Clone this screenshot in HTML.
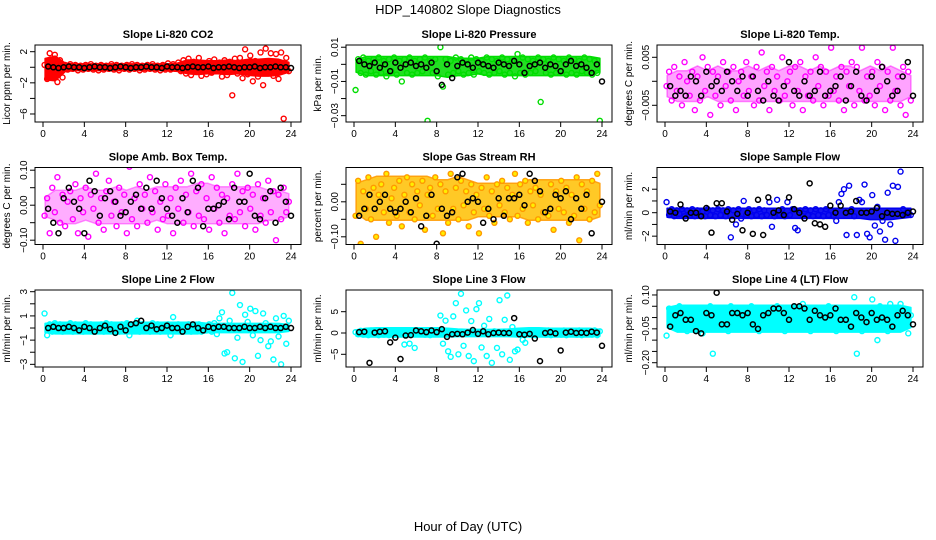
<!DOCTYPE html>
<html><head><meta charset="utf-8"><style>
body{margin:0;background:#fff}
svg{display:block;font-family:"Liberation Sans",sans-serif}
</style></head><body>
<svg id="chart" width="936" height="540" viewBox="0 0 936 540">
<text x="468" y="14" text-anchor="middle" font-size="13">HDP_140802  Slope Diagnostics</text>
<text x="468" y="531" text-anchor="middle" font-size="13">Hour of Day (UTC)</text>
</svg>
<script>
const xTicks = [0,4,8,12,16,20,24];
const bandHours = [0,1,2,3,4,5,6,7,8,9,10,11,12,13,14,15,16,17,18,19,20,21,22,23,24];
const titles = ["Slope Li-820 CO2","Slope Li-820 Pressure","Slope Li-820 Temp.","Slope Amb. Box Temp.","Slope Gas Stream RH","Slope Sample Flow","Slope Line 2 Flow","Slope Line 3 Flow","Slope Line 4 (LT) Flow"];
const yTitles = ["Licor ppm per min.","kPa per min.","degrees C per min.","degrees C per min.","percent per min.","ml/min per min.","ml/min per min.","ml/min per min.","ml/min per min."];
const yLims = [[-7.03,2.86],[-0.0337,0.0113],[-0.00848,0.00756],[-0.1123,0.1077],[-0.122,0.098],[-2.71,3.85],[-3.22,3.14],[-7.98,10.09],[-0.219,0.122]];
const yTickVals = [[2,0,-2,-4,-6],[0.01,0,-0.01,-0.02,-0.03],[0.005,0,-0.005],[0.1,0.05,0,-0.05,-0.1],[0.05,0,-0.05,-0.1],[3,2,1,0,-1,-2],[3,2,1,0,-1,-2,-3],[5,0,-5],[0.1,0.05,0,-0.05,-0.1,-0.15,-0.2]];
const yTickLabels = [["2","","−2","","−6"],["0.01","","−0.01","","−0.03"],["0.005","","−0.005"],["0.10","","0.00","","−0.10"],["","0.00","","−0.10"],["","2","","0","","−2"],["3","","1","","−1","","−3"],["5","0","−5"],["0.10","","","−0.05","","","−0.20"]];
const colColors = ["#ff0000","#00dd00","#ff00ff","#ff00ff","#ff9900","#0000ee","#00ffff","#00ffff","#00ffff"];
const bandColors = ["#ff0000","#22e022","#ff33ff","#ff33ff","#ffc000","#1515ee","#00ffff","#00ffff","#00ffff"];

/* dense-band envelopes per hour (low, high) */
const co2Lo = [-1.5,-1.6,-0.4,-0.3,-0.3,-0.3,-0.3,-0.3,-0.3,-0.3,-0.3,-0.3,-0.3,-0.4,-0.7,-0.8,-0.7,-0.7,-0.8,-0.7,-0.9,-1.0,-1.0,-0.9,-0.5];
const co2Hi = [1.0,1.3,0.4,0.3,0.3,0.3,0.3,0.3,0.3,0.3,0.3,0.3,0.3,0.4,0.8,0.8,0.7,0.7,0.8,0.7,0.9,0.9,1.0,0.9,0.5];
const presLo = [-0.004,-0.006,-0.006,-0.006,-0.006,-0.006,-0.006,-0.006,-0.006,-0.007,-0.006,-0.006,-0.005,-0.006,-0.006,-0.006,-0.006,-0.006,-0.006,-0.006,-0.006,-0.006,-0.006,-0.006,-0.004];
const presHi = [0.002,0.004,0.004,0.004,0.004,0.004,0.004,0.004,0.004,0.004,0.003,0.003,0.003,0.004,0.004,0.004,0.004,0.004,0.004,0.004,0.004,0.004,0.004,0.004,0.003];
const tempLo = [-0.003,-0.004,-0.004,-0.004,-0.003,-0.004,-0.004,-0.004,-0.004,-0.004,-0.004,-0.004,-0.004,-0.004,-0.004,-0.004,-0.004,-0.004,-0.004,-0.004,-0.004,-0.004,-0.004,-0.004,-0.003];
const tempHi = [0.001,0.002,0.002,0.003,0.002,0.003,0.002,0.002,0.003,0.002,0.003,0.002,0.003,0.003,0.002,0.003,0.002,0.003,0.003,0.002,0.003,0.002,0.003,0.002,0.001];
const ambLo = [-0.03,-0.04,-0.05,-0.05,-0.04,-0.05,-0.05,-0.05,-0.05,-0.05,-0.05,-0.04,-0.05,-0.05,-0.05,-0.05,-0.05,-0.05,-0.05,-0.05,-0.05,-0.05,-0.04,-0.04,-0.03];
const ambHi = [0.02,0.04,0.04,0.04,0.05,0.04,0.04,0.05,0.04,0.05,0.04,0.05,0.05,0.05,0.05,0.06,0.06,0.05,0.05,0.05,0.05,0.05,0.04,0.04,0.03];
const rhLo = [-0.03,-0.05,-0.05,-0.05,-0.05,-0.05,-0.05,-0.05,-0.05,-0.05,-0.05,-0.05,-0.04,-0.04,-0.04,-0.04,-0.04,-0.05,-0.05,-0.05,-0.05,-0.05,-0.05,-0.05,-0.04];
const rhHi = [0.05,0.06,0.07,0.07,0.07,0.07,0.07,0.07,0.06,0.06,0.07,0.06,0.05,0.05,0.05,0.05,0.05,0.06,0.06,0.06,0.06,0.06,0.06,0.06,0.05];
const sampLo = [-0.3,-0.4,-0.4,-0.4,-0.4,-0.4,-0.4,-0.4,-0.4,-0.4,-0.4,-0.4,-0.4,-0.4,-0.4,-0.4,-0.4,-0.4,-0.4,-0.4,-0.5,-0.5,-0.5,-0.4,-0.3];
const sampHi = [0.3,0.3,0.3,0.3,0.3,0.3,0.3,0.3,0.3,0.3,0.3,0.3,0.3,0.3,0.3,0.3,0.3,0.3,0.3,0.3,0.3,0.3,0.3,0.3,0.3];
const l2Lo = [-0.3,-0.4,-0.4,-0.4,-0.4,-0.4,-0.4,-0.4,-0.4,-0.4,-0.4,-0.4,-0.4,-0.4,-0.4,-0.4,-0.3,-0.3,-0.3,-0.3,-0.3,-0.3,-0.3,-0.3,-0.2];
const l2Hi = [0.3,0.4,0.4,0.4,0.4,0.4,0.4,0.4,0.4,0.4,0.4,0.4,0.4,0.4,0.4,0.4,0.3,0.3,0.3,0.3,0.3,0.3,0.3,0.3,0.2];
const l3Lo = [-0.5,-0.7,-0.7,-0.7,-0.7,-0.7,-0.7,-0.7,-0.7,-0.7,-0.6,-0.6,-0.6,-0.6,-0.6,-0.6,-0.7,-0.7,-0.7,-0.7,-0.7,-0.7,-0.7,-0.7,-0.5];
const l3Hi = [0.5,0.9,1.0,1.0,1.0,1.0,1.0,1.0,1.0,0.9,0.7,0.6,0.6,0.6,0.6,0.7,0.9,1.0,1.0,0.9,0.9,0.9,0.9,0.9,0.6];
const l4Lo = [-0.04,-0.06,-0.06,-0.06,-0.06,-0.06,-0.06,-0.06,-0.06,-0.06,-0.06,-0.06,-0.06,-0.06,-0.06,-0.06,-0.06,-0.06,-0.06,-0.06,-0.06,-0.06,-0.06,-0.06,-0.04];
const l4Hi = [0.04,0.05,0.05,0.05,0.05,0.05,0.05,0.05,0.05,0.05,0.05,0.05,0.05,0.05,0.05,0.05,0.05,0.05,0.05,0.05,0.05,0.05,0.05,0.05,0.04];

const co2Col = [0.3,-1.5,1.8,-0.8,1.6,-1.9,0.9,-1.3,0.3,-0.3,0.4,-0.2,0.3,-0.4,0.2,-0.3,0.3,-0.2,0.4,-0.3,0.2,-0.4,0.3,-0.3,0.2,-0.2,0.4,-0.3,0.3,-0.4,0.2,-0.2,0.3,-0.3,0.4,-0.2,0.3,-0.4,0.2,-0.3,0.3,-0.2,0.4,-0.3,0.2,-0.4,0.3,-0.3,0.5,-0.3,0.4,-0.2,0.6,-0.5,0.9,-0.8,1.1,-1.0,0.7,-0.6,1.2,-1.1,0.5,-0.9,0.8,-0.7,1.0,-0.5,0.6,-1.2,0.9,-1.0,0.7,-3.6,1.1,-0.8,1.2,-1.4,2.3,-0.9,1.5,-1.8,0.8,-1.2,1.9,-2.3,2.4,-0.7,1.8,-1.1,1.7,-1.5,1.9,-6.6,1.2,-0.5];
const co2Blk = [0.1,0,-0.1,0,0.1,0,0,-0.1,0,0.1,0,0,-0.1,0,0.1,0,-0.1,0,0,0.1,0,0,-0.1,0.1,0,0,-0.1,0,0.1,0,0,0.1,-0.1,0,0,0.1,0,-0.1,0,0,0.1,-0.1,0,0,0.1,0,0,-0.1];
const presCol = [-0.015,0.003,-0.005,0.004,-0.006,0.002,-0.004,0.003,-0.006,0.004,-0.005,0.002,-0.007,0.003,-0.004,0.004,-0.006,0.002,-0.01,0.003,-0.005,0.004,-0.006,0.002,-0.005,0.003,-0.004,0.004,-0.033,0.002,-0.005,0.003,-0.007,0.01,-0.013,0.003,-0.006,0.002,-0.005,0.004,-0.004,0.003,-0.006,0.002,-0.005,0.004,-0.006,0.003,-0.004,0.002,-0.005,0.004,-0.006,0.003,-0.005,0.002,-0.004,0.004,-0.006,0.003,-0.005,0.002,-0.007,0.006,-0.005,0.004,-0.006,0.003,-0.005,0.002,-0.004,0.004,-0.022,0.003,-0.005,0.002,-0.006,0.004,-0.005,0.003,-0.004,0.002,-0.006,0.004,-0.005,0.003,-0.006,0.002,-0.004,0.004,-0.005,0.003,-0.006,0.002,-0.005,-0.033];
const presBlk = [0.002,0,-0.001,0.001,-0.002,0,-0.004,0.001,-0.002,0,0.001,-0.001,0,-0.002,0.001,-0.004,-0.012,0,-0.008,-0.001,0.001,0,-0.002,0.001,0,-0.001,-0.002,0.001,0,-0.001,0.002,0,-0.005,-0.001,0,0.001,-0.002,0,-0.001,-0.004,0,0.002,-0.001,0,-0.002,-0.005,0,-0.01];
const tempCol = [-0.001,0.002,-0.004,0.003,-0.002,0.001,-0.005,0.004,0,-0.003,0.002,-0.006,0.001,-0.004,0.005,-0.002,0.003,-0.007,0.002,-0.003,0.001,-0.005,0.004,-0.001,0.002,-0.004,0.003,-0.006,0,0.002,-0.003,0.004,-0.002,0.001,-0.005,0.003,-0.004,0.006,-0.001,0.002,-0.006,0.003,-0.002,0.001,-0.004,0.005,-0.003,0,0.002,-0.005,0.003,-0.002,0.004,-0.006,0.001,-0.003,0.002,-0.004,0.005,-0.001,0.003,-0.005,0.002,-0.003,0.007,-0.002,0.001,-0.004,0.003,-0.006,0.002,-0.001,0.004,-0.005,0.003,-0.002,0.007,-0.004,0.001,-0.003,0.002,-0.005,0.004,-0.001,0.003,-0.006,0.002,-0.004,0.007,-0.002,0.001,-0.005,0.003,-0.007,0.002,-0.004];
const tempBlk = [-0.001,-0.003,-0.002,-0.003,0.001,0,-0.003,0.002,-0.001,0,-0.002,0.002,0,-0.002,0.001,-0.003,0.001,-0.002,-0.004,0,-0.003,-0.004,-0.001,0.004,-0.002,-0.003,0,-0.003,-0.002,0.002,-0.003,-0.002,-0.001,0.001,-0.004,-0.001,0.002,-0.003,-0.004,0.001,-0.002,0.003,0,-0.003,-0.002,0.001,0.004,-0.003];
const ambCol = [-0.03,0.02,-0.08,0.05,-0.02,0.08,-0.05,0.03,-0.06,0.01,0.04,-0.04,0.06,-0.08,0.02,-0.02,0.05,-0.09,0.03,-0.01,0.09,-0.05,0.02,-0.07,0.04,0.07,-0.03,0.01,-0.06,0.05,-0.02,0.03,-0.08,0.11,-0.04,0.02,-0.06,0.06,-0.01,0.03,-0.05,0.08,-0.02,0.04,-0.07,0.01,-0.04,0.06,-0.03,0.02,-0.08,0.05,-0.01,0.07,-0.05,0.03,-0.02,0.09,-0.06,0.04,-0.03,0.06,-0.04,0.02,-0.07,0.08,-0.01,0.05,-0.05,0.03,-0.08,0.02,-0.03,0.06,-0.04,0.09,-0.02,0.04,-0.06,0.05,-0.01,0.03,-0.07,0.06,-0.03,0.02,-0.05,0.07,-0.02,0.04,-0.1,0.03,-0.04,0.05,-0.02,0.01];
const ambBlk = [-0.01,-0.05,-0.08,0.02,0.05,0.01,-0.01,-0.08,0.07,0.04,-0.03,0.02,0.04,0.01,-0.03,-0.02,0.01,0.03,-0.01,0.05,-0.01,0.07,0.02,-0.01,-0.03,-0.05,0.02,-0.02,0.07,0.05,-0.06,-0.01,-0.01,0,0.01,-0.04,0.05,0.01,0.01,0.09,-0.03,-0.04,0.02,0.04,-0.05,0.05,0.01,-0.03];
const rhCol = [-0.04,0.06,-0.12,0.03,-0.02,0.07,-0.05,0.04,-0.10,0.02,0.05,-0.03,0.08,-0.06,0.01,0.04,-0.04,0.06,-0.07,0.02,0.07,-0.03,0.05,-0.05,0.03,-0.01,0.06,-0.08,0.02,0.04,-0.04,0.07,-0.02,0.05,-0.09,0.03,-0.06,0.08,-0.02,0.04,-0.05,0.06,-0.01,0.03,-0.07,0.05,-0.03,0.02,-0.09,0.04,-0.02,0.07,-0.04,0.03,-0.06,0.05,-0.01,0.06,-0.03,0.04,-0.05,0.02,0.08,-0.04,0.05,-0.02,0.06,-0.06,0.03,-0.01,0.04,-0.05,0.02,-0.03,0.11,-0.04,0.05,-0.08,0.03,-0.02,0.06,-0.03,0.04,-0.06,0.02,-0.04,0.07,-0.11,0.05,-0.02,0.03,-0.05,0.06,-0.03,0.08,-0.01];
const rhBlk = [-0.04,-0.02,0.02,-0.02,0,0.02,-0.02,-0.03,-0.02,0,-0.03,0.01,-0.07,-0.04,0.02,-0.12,-0.02,-0.04,-0.03,0.07,0.08,0,0.01,0,-0.06,-0.02,-0.05,0.01,-0.04,0.01,0.01,0.02,-0.01,0.08,0.06,0.03,-0.03,-0.02,0.02,0.01,0.03,-0.05,0.01,-0.02,0.02,-0.09,0.12,0];
const sampCol = [0.9,-0.2,0.3,-0.3,0.2,-0.1,0.3,-0.3,0.2,-0.2,0.3,-0.3,0.2,-0.2,0.1,-0.3,0.3,-0.2,0.2,-0.3,0.3,-0.2,0.2,-0.3,0.3,-2.1,0.2,-1.0,0.3,-0.5,1.0,-0.2,0.3,-0.3,0.2,-0.2,0.3,-0.3,0.2,-0.2,0.9,-1.2,-0.3,1.1,-0.2,0.3,-0.3,0.9,-0.2,0.3,-1.3,-1.5,0.2,-0.3,0.3,-0.2,0.2,-0.3,0.3,-0.2,0.2,-0.3,0.3,-0.2,0.2,-0.3,-0.7,0.9,1.6,2.0,-1.9,2.3,0.3,-0.3,-1.9,1.1,0.9,2.4,-1.8,-2.1,1.5,-1.1,0.5,-1.6,-0.7,-2.3,1.7,-1.0,2.3,-2.4,2.2,3.5,0.3,-0.2,0.1,-0.2];
const sampBlk = [0.1,0,0.7,-0.5,0,0,-0.3,0.4,-1.7,0.8,0.8,0.1,-0.6,-0.1,-1.5,0,-1.8,1.1,-1.9,1.3,0,0.2,-0.2,1.3,0.3,0,-0.5,2.5,-0.9,-1.0,-1.2,0.6,0,0.6,0,0.1,1.0,0,0,0.1,0.4,-0.3,0,-0.1,-0.1,-0.2,0,0.1];
const l2Col = [1.2,-0.6,0.3,-0.3,0.4,-0.2,0.3,-0.3,0.2,-0.2,0.4,-0.3,0.3,-0.2,0.2,-0.3,0.4,-0.2,0.3,-0.3,0.2,-0.2,0.3,-0.3,0.4,-0.2,0.3,-0.3,0.2,-0.3,0.3,-0.2,0.4,-0.6,0.3,-0.2,0.6,-0.3,0.3,-0.2,0.2,-0.3,0.4,-0.2,0.3,-0.3,0.2,-0.2,0.3,-0.6,0.9,-0.2,0.3,-0.3,0.2,-0.2,0.3,-0.3,0.2,-0.2,0.3,-0.3,0.2,-0.2,0.3,-0.3,0.4,-0.5,0.8,1.3,-2.1,-2.0,0.6,2.9,-2.5,-0.8,1.9,-2.8,1.1,0.5,1.6,-0.6,1.4,-2.3,-1.0,1.2,0.4,-1.5,-1.1,-2.6,0.8,-0.7,-3.0,1.0,-1.3,0.6];
const l2Blk = [0,0.1,0,0,0.1,0,-0.2,0.1,0,-0.3,0,0.2,-0.1,-0.4,0.1,-0.2,0.3,0.4,0.6,0,0.2,-0.1,0,0.2,0,0,-0.3,0.1,0.3,0,-0.2,0.1,0,0.1,0.1,0,0,0,0.1,0,0,0.1,0,0.1,0,0,0.1,0];
const l3Col = [0.2,-0.3,0.5,-0.4,0.4,-0.5,0.6,-0.3,0.4,-0.5,0.5,-0.4,0.3,-0.5,0.6,-0.4,0.4,-0.3,0.5,-2.7,0.4,-2.5,0.5,-3.5,0.4,-0.3,0.5,-0.4,0.6,-0.5,0.4,-0.3,0.5,4.1,-2.5,2.9,-4.3,-5.6,3.9,7.0,-5.0,9.2,-3.0,5.3,-5.4,2.8,-6.6,5.6,7.0,-3.4,1.7,-5.4,3.3,-7.0,0.4,-3.5,7.7,-5.0,3.1,8.8,-6.3,1.4,-4.3,-3.9,0.4,-1.6,-2.3,0.5,-0.4,0.6,-0.5,0.4,-0.3,0.5,-0.4,0.6,-0.5,0.4,-0.3,0.5,-0.4,0.6,-0.5,0.4,-0.3,0.5,-0.4,0.6,-0.5,0.4,-0.3,0.5,-0.4,0.6,-0.5,0.4];
const l3Blk = [0.2,0.3,-7.0,0.1,0.3,0.4,-2.2,-1.1,-6.1,-0.6,-0.5,0.6,0.4,0.2,0.6,0.2,0.9,-0.9,-0.3,-0.2,-0.3,0.1,0.7,-0.2,0.4,-0.3,0,0.1,0,0,3.5,-0.3,-0.4,-0.2,-1.3,-6.6,0,0.2,-0.1,-4.1,0.1,0.3,0,0.1,0,0.3,0.1,-3.0];
const l4Col = [-0.08,0.04,-0.02,0.03,-0.05,0.05,-0.03,0.02,-0.06,0.03,-0.04,0.04,-0.02,0.02,-0.07,0.03,-0.03,0.05,-0.16,0.02,-0.04,0.04,-0.02,0.03,-0.06,0.05,-0.03,0.02,-0.04,0.04,-0.05,0.03,-0.02,0.05,-0.04,0.03,-0.06,0.02,-0.03,0.04,-0.05,0.03,-0.02,0.05,-0.04,-0.29,-0.06,0.02,-0.03,0.04,-0.05,0.03,-0.02,0.06,-0.04,0.03,-0.06,0.02,-0.03,0.04,-0.05,0.03,-0.02,0.05,-0.04,0.03,-0.06,0.02,-0.03,0.04,-0.05,0.03,-0.02,0.09,-0.16,0.03,-0.06,0.02,-0.03,0.04,0.08,0.03,-0.10,0.05,-0.04,0.03,-0.06,0.06,-0.03,0.04,-0.05,0.06,-0.02,0.03,-0.07,0.01];
const l4Blk = [-0.04,0.01,0.02,-0.01,-0.01,-0.06,-0.07,0.02,0.01,0.11,-0.03,-0.03,0.02,0.02,0.01,0.02,-0.03,-0.05,0.01,0.02,0.04,0.04,0.02,-0.01,0.05,0.05,0.04,-0.01,0.03,0.01,0,0.01,0.04,-0.01,-0.01,-0.04,0.02,0,-0.02,0.02,-0.01,0,-0.01,-0.04,0.01,0.03,0.01,-0.03];

const bandLos = [co2Lo,presLo,tempLo,ambLo,rhLo,sampLo,l2Lo,l3Lo,l4Lo];
const bandHis = [co2Hi,presHi,tempHi,ambHi,rhHi,sampHi,l2Hi,l3Hi,l4Hi];
const colored = [co2Col,presCol,tempCol,ambCol,rhCol,sampCol,l2Col,l3Col,l4Col];
const blacks = [co2Blk,presBlk,tempBlk,ambBlk,rhBlk,sampBlk,l2Blk,l3Blk,l4Blk];
const slugs = ["co2","pressure","li820-temp","amb-box-temp","gas-rh","sample-flow","line2-flow","line3-flow","line4-flow"];
const bandOpacity = [1,1,0.45,0.4,0.85,1,1,1,1];

const NS = "http://www.w3.org/2000/svg";
const svg = document.getElementById("chart");
function mk(tag, attrs, parent){const e=document.createElementNS(NS,tag);for(const k in attrs)e.setAttribute(k,attrs[k]);(parent||svg).appendChild(e);return e;}

for(let p=0;p<9;p++){
  const c=p%3, r=Math.floor(p/3);
  const L=35+311*c, R=301+311*c, T=45+122.5*r, B=122+122.5*r;
  const x0=43+311*c, x1=291+311*c;
  const xs=h=>x0+(x1-x0)*h/24;
  const [ymin,ymax]=yLims[p];
  const ys=v=>B-(v-ymin)/(ymax-ymin)*(B-T);
  const g=mk("g",{});
  
  
  const t=mk("text",{x:(L+R)/2,y:T-7,"text-anchor":"middle","font-size":"11","font-weight":"bold"},g);
  t.textContent=titles[p];
  
  
  const yt=mk("text",{x:0,y:0,"text-anchor":"middle","font-size":"10",transform:`translate(${L-25},${(T+B)/2}) rotate(-90)`},g);
  yt.textContent=yTitles[p];
  
  
  const clip=mk("clipPath",{id:"cp"+p},g);
  mk("rect",{x:L,y:T,width:R-L,height:B-T},clip);
  const pts=mk("g",{"clip-path":`url(#cp${p})`},g);
  const lo=bandLos[p], hi=bandHis[p];
  let d="";
  bandHours.forEach((h,i)=>{const hh=0.2+h*23.6/24; d+=(i?"L":"M")+xs(hh).toFixed(1)+","+(ys(hi[i])-1).toFixed(1);});
  for(let i=bandHours.length-1;i>=0;i--){const hh=0.2+bandHours[i]*23.6/24; d+="L"+xs(hh).toFixed(1)+","+(ys(lo[i])+1).toFixed(1);}
  d+="Z";
  const band=mk("path",{d:d,fill:bandColors[p],"fill-opacity":bandOpacity[p],stroke:colColors[p],"stroke-width":1.5,"stroke-linejoin":"round","stroke-opacity":bandOpacity[p]},pts);
  
  
  const cs=colored[p];
  for(let i=0;i<cs.length;i++){
    const h=i*24/(cs.length-1)*0.985+0.15;
    const m=mk("circle",{cx:xs(h),cy:ys(cs[i]),r:2.5,fill:p===4?"#ffee00":"none",stroke:colColors[p],"stroke-width":1.4},pts);
    
    
  }
  const bs=blacks[p];
  for(let i=0;i<bs.length;i++){
    const h=0.5+i*23.5/(bs.length-1);
    const m=mk("circle",{cx:xs(h),cy:ys(bs[i]),r:2.5,fill:"none",stroke:"#000","stroke-width":1.5},pts);
    
    
  }
  const box=mk("rect",{x:L,y:T,width:R-L,height:B-T,fill:"none",stroke:"#000","stroke-width":1},g);
  
  
  xTicks.forEach(v=>{
    mk("line",{x1:xs(v),x2:xs(v),y1:B,y2:B+5,stroke:"#000"},g);
    const tl=mk("text",{x:xs(v),y:B+15,"text-anchor":"middle","font-size":"10"},g);
    tl.textContent=v;
    
    
  });
  yTickVals[p].forEach((v,k)=>{
    mk("line",{x1:L-5,x2:L,y1:ys(v),y2:ys(v),stroke:"#000"},g);
    const lab=yTickLabels[p][k];
    if(lab){
      const tl=mk("text",{x:0,y:0,"text-anchor":"middle","font-size":"10",transform:`translate(${L-8},${ys(v)}) rotate(-90)`},g);
      tl.textContent=lab;
      
      
    }
  });
}
</script>
</body></html>
